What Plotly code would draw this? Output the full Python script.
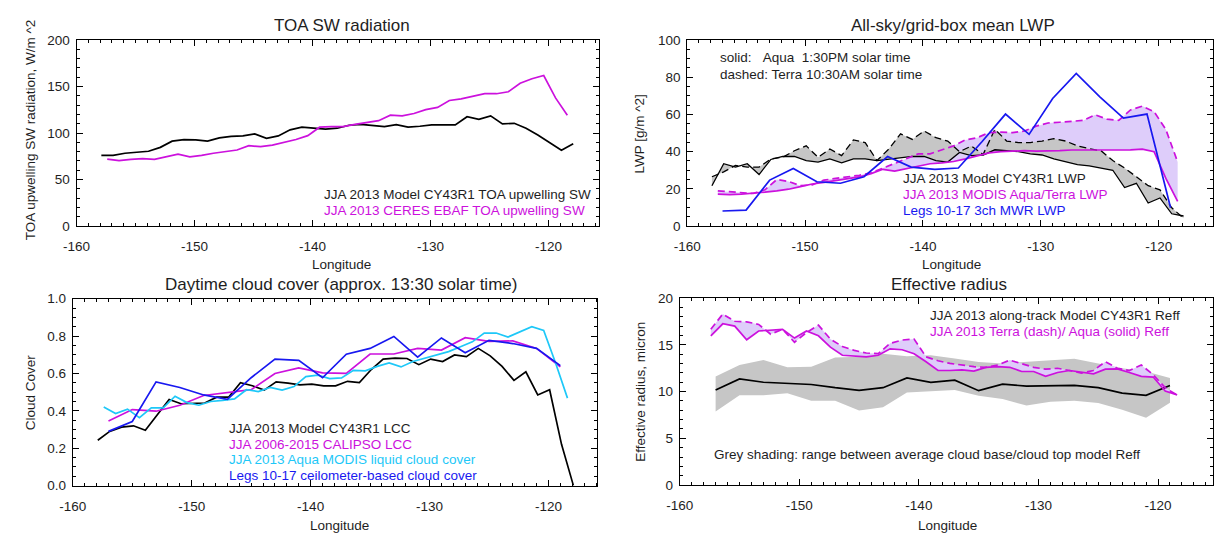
import plotly.graph_objects as go

W, H = 1215, 540

# ---------------- longitude grids ----------------
lon_model = [-157.9, -156.9, -155.9, -154.9, -153.9, -152.9, -151.9, -150.9, -149.9, -148.9,
             -147.9, -146.9, -145.9, -144.9, -143.9, -142.9, -141.9, -140.9, -139.9, -138.9,
             -137.9, -136.9, -135.9, -134.9, -133.9, -132.9, -131.9, -130.9, -129.9, -128.9,
             -127.9, -126.9, -125.9, -124.9, -123.9, -122.9, -121.9, -120.9, -119.9, -118.9,
             -117.9]
lon_obs = [-157.4, -156.4, -155.4, -154.4, -153.4, -152.4, -151.4, -150.4, -149.4, -148.4,
           -147.4, -146.4, -145.4, -144.4, -143.4, -142.4, -141.4, -140.4, -139.4, -138.4,
           -137.4, -136.4, -135.4, -134.4, -133.4, -132.4, -131.4, -130.4, -129.4, -128.4,
           -127.4, -126.4, -125.4, -124.4, -123.4, -122.4, -121.4, -120.4, -119.4, -118.4]
lon_2deg = [-157, -155, -153, -151, -149, -147, -145, -143, -141, -139,
            -137, -135, -133, -131, -129, -127, -125, -123, -121, -119]

# ---------------- TOA SW radiation (W/m^2) ----------------
toa_model = [75.9, 75.9, 78.3, 79.7, 80.4, 84.6, 91.3, 93.0, 92.7, 91.3,
             94.8, 96.5, 96.9, 99.0, 94.4, 96.9, 103.5, 106.3, 104.9, 104.2,
             105.2, 108.4, 109.4, 108.0, 107.0, 109.1, 106.3, 107.3, 108.7, 108.7,
             108.7, 117.5, 114.7, 118.5, 109.8, 110.5, 105.2, 97.9, 89.5, 81.5,
             88.5]
toa_ceres = [72.0, 70.3, 71.7, 72.4, 71.7, 74.1, 77.3, 74.5, 75.9, 78.3,
             80.4, 81.8, 86.4, 85.3, 87.1, 89.9, 93.0, 97.2, 106.3, 107.0,
             107.0, 109.4, 111.5, 113.3, 119.2, 118.5, 121.0, 125.2, 127.6, 135.0,
             136.7, 139.9, 142.3, 142.3, 144.4, 153.5, 158.4, 161.9, 137.8, 119.2]

# ---------------- LWP (g/m^2) ----------------
lwp_model_aqua = [21.7, 33.5, 31.7, 33.5, 27.7, 35.8, 37.4, 37.4, 35.2, 34.4,
                  36.1, 34.0, 36.1, 36.1, 35.2, 36.1, 37.0, 37.5, 37.4, 35.2,
                  34.4, 39.6, 37.9, 38.2, 41.0, 40.5, 40.0, 38.8, 38.2, 36.1,
                  34.4, 33.0, 32.3, 31.2, 30.0, 20.7, 23.0, 12.4, 15.1, 6.6,
                  5.4]
lwp_model_terra = [26.5, 29.1, 32.6, 31.7, 31.7, 36.1, 37.0, 40.5, 43.1, 37.0,
                   41.4, 37.9, 46.3, 44.9, 35.2, 41.4, 49.6, 46.6, 51.1, 47.5,
                   45.7, 40.0, 43.0, 38.5, 52.0, 45.7, 44.9, 44.9, 45.7, 47.0,
                   45.7, 43.1, 41.6, 40.5, 35.2, 31.2, 26.5, 21.7, 19.5, 9.8,
                   4.2]
lwp_modis_aqua = [17.2, 16.9, 17.2, 17.5, 18.2, 18.9, 19.8, 21.2, 22.6, 23.5,
                  24.5, 25.6, 26.4, 28.2, 30.5, 29.5, 30.9, 32.3, 33.5, 34.0,
                  34.7, 36.1, 37.9, 39.3, 40.0, 40.3, 40.5, 40.3, 40.3, 40.5,
                  40.9, 40.9, 40.5, 40.5, 40.9, 41.0, 41.4, 40.0, 25.6, 13.3]
lwp_modis_terra = [18.9, 18.5, 18.0, 17.5, 19.5, 25.0, 24.0, 21.7, 22.1, 24.7,
                   25.6, 26.3, 27.3, 28.6, 31.2, 33.5, 36.1, 38.8, 38.8, 41.0,
                   43.1, 46.3, 47.5, 50.2, 50.5, 50.2, 51.1, 53.7, 55.4, 55.8,
                   56.3, 56.8, 59.8, 57.5, 56.8, 62.4, 64.5, 61.5, 51.9, 34.4]
lwp_mwr = [8.1, 8.6, 24.7, 30.9, 23.8, 23.0, 26.5, 37.4, 31.7, 30.5,
           31.2, 45.3, 60.2, 49.3, 68.6, 82.1, 69.5, 58.0, 60.2, 9.8]

# ---------------- Cloud cover (fraction) ----------------
cc_model = [0.243, 0.290, 0.313, 0.320, 0.296, 0.377, 0.461, 0.438, 0.438, 0.442,
            0.473, 0.473, 0.551, 0.534, 0.511, 0.555, 0.548, 0.539, 0.543, 0.534,
            0.534, 0.558, 0.551, 0.621, 0.677, 0.682, 0.680, 0.647, 0.677, 0.664,
            0.699, 0.690, 0.734, 0.694, 0.638, 0.563, 0.609, 0.485, 0.513, 0.221,
            0.0]
cc_calipso = [0.346, 0.407, 0.398, 0.430, 0.482, 0.499, 0.513, 0.600, 0.630, 0.603,
              0.600, 0.704, 0.704, 0.734, 0.725, 0.791, 0.772, 0.774, 0.734, 0.635]
cc_modis = [0.421, 0.386, 0.409, 0.364, 0.416, 0.416, 0.478, 0.444, 0.430, 0.450,
            0.456, 0.464, 0.513, 0.503, 0.525, 0.511, 0.530, 0.583, 0.591, 0.572,
            0.576, 0.617, 0.614, 0.638, 0.656, 0.635, 0.664, 0.682, 0.699, 0.717,
            0.743, 0.769, 0.816, 0.816, 0.795, 0.824, 0.850, 0.830, 0.656, 0.468]
cc_ceil = [0.290, 0.343, 0.555, 0.525, 0.485, 0.461, 0.577, 0.677, 0.670, 0.577,
           0.703, 0.734, 0.798, 0.687, 0.790, 0.711, 0.777, 0.760, 0.734, 0.642]

# ---------------- Effective radius (micron) ----------------
reff_model = [10.17, 11.35, 11.0, 10.87, 10.76, 10.42, 10.14, 10.42, 11.46, 11.0,
              11.22, 10.1, 10.8, 10.59, 10.59, 10.66, 10.42, 9.83, 9.6, 10.66]
reff_model_top = [11.63, 12.85, 13.37, 12.6, 12.67, 13.65, 13.72, 14.06, 13.78, 13.89,
                  13.54, 13.16, 13.02, 13.16, 13.37, 13.51, 13.02, 12.5, 12.15, 11.46]
reff_model_base = [7.88, 9.62, 9.62, 9.83, 9.03, 9.03, 7.99, 8.33, 9.9, 10.0,
                   10.17, 9.55, 9.2, 8.51, 8.92, 9.03, 8.78, 8.06, 7.19, 8.8]
reff_aqua = [15.97, 17.26, 17.01, 15.55, 16.49, 16.56, 16.67, 15.73, 16.49, 15.97,
             14.76, 13.89, 13.78, 13.72, 13.89, 14.58, 14.48, 14.06, 13.2, 12.26,
             12.26, 12.33, 12.19, 12.6, 12.67, 12.6, 12.15, 12.15, 11.63, 12.05,
             12.26, 12.05, 11.91, 12.4, 12.43, 12.05, 11.63, 11.56, 10.07, 9.65]
reff_terra = [16.67, 18.3, 17.53, 17.47, 17.19, 16.15, 16.67, 15.28, 16.32, 17.12,
              15.62, 14.83, 14.41, 14.13, 14.06, 15.17, 15.52, 15.62, 13.72, 13.3,
              13.02, 12.85, 12.67, 12.6, 12.85, 13.37, 13.02, 12.6, 12.4, 12.5,
              12.26, 11.98, 12.26, 13.2, 12.5, 12.26, 12.85, 11.8, 10.42, 9.62]

# ---------------- tick labels ----------------
lon_ticks = [-160, -150, -140, -130, -120]
lon_tick_text = ["-160", "-150", "-140", "-130", "-120"]
toa_ticks = [0, 50, 100, 150, 200]
lwp_ticks = [0, 20, 40, 60, 80, 100]
cc_ticks = [0.0, 0.2, 0.4, 0.6, 0.8, 1.0]
cc_tick_text = ["0.0", "0.2", "0.4", "0.6", "0.8", "1.0"]
reff_ticks = [0, 5, 10, 15, 20]

# ---------------- styling ----------------
FONT = "Liberation Sans, Arial, Helvetica, sans-serif"
TXT = "#1e1e1e"
BLACK = "#000000"
MAGENTA = "#CC11DD"
BLUE = "#1818F0"
CYAN = "#1EC8F8"
LAVENDER = "#DECDFA"
GREY = "#C6C6C6"
LW = 1.7
DASH = "7px,4px"
NB = "\u00a0"


def px(x):
    return x / W


def py(y):
    return 1 - y / H


def xaxis(x0, x1, anchor, right):
    return dict(domain=[px(x0), px(x1)], anchor=anchor, range=[-160, right],
                showline=True, linecolor="black", linewidth=1, mirror="allticks",
                ticks="inside", ticklen=6, tickwidth=1, tickcolor="black",
                tickmode="array", tickvals=lon_ticks, ticktext=lon_tick_text,
                minor=dict(ticks="inside", ticklen=3, tickwidth=1, tickcolor="black",
                           tickmode="linear", tick0=-160, dtick=1, showgrid=False),
                showgrid=False, zeroline=False, ticklabelstandoff=8,
                tickfont=dict(family=FONT, size=13.5, color=TXT))


def yaxis(y_top, y_bot, anchor, rng, vals, dminor, text=None):
    d = dict(domain=[py(y_bot), py(y_top)], anchor=anchor, range=rng,
             showline=True, linecolor="black", linewidth=1, mirror="allticks",
             ticks="inside", ticklen=6, tickwidth=1, tickcolor="black",
             tickmode="array", tickvals=vals,
             minor=dict(ticks="inside", ticklen=3, tickwidth=1, tickcolor="black",
                        tickmode="linear", tick0=0, dtick=dminor, showgrid=False),
             showgrid=False, zeroline=False, ticklabelstandoff=3,
             tickfont=dict(family=FONT, size=13.5, color=TXT))
    if text is not None:
        d["ticktext"] = text
    return d


fig = go.Figure()


def line(x, y, color, xa, ya, dash=None, width=LW):
    fig.add_trace(go.Scatter(x=x, y=y, mode="lines", xaxis=xa, yaxis=ya,
                             line=dict(color=color, width=width, dash=dash),
                             showlegend=False, hoverinfo="skip"))


def band(x, y_a, y_b, color, xa, ya):
    fig.add_trace(go.Scatter(x=x, y=y_a, mode="lines", xaxis=xa, yaxis=ya,
                             line=dict(width=0), showlegend=False, hoverinfo="skip"))
    fig.add_trace(go.Scatter(x=x, y=y_b, mode="lines", xaxis=xa, yaxis=ya,
                             line=dict(width=0), fill="tonexty", fillcolor=color,
                             showlegend=False, hoverinfo="skip"))


# Panel 1: TOA SW
line(lon_model, toa_model, BLACK, "x", "y")
line(lon_obs, toa_ceres, MAGENTA, "x", "y")

# Panel 2: LWP
band(lon_obs, lwp_modis_aqua, lwp_modis_terra, LAVENDER, "x2", "y2")
band(lon_model, lwp_model_aqua, lwp_model_terra, GREY, "x2", "y2")
line(lon_model, lwp_model_aqua, BLACK, "x2", "y2", width=1.3)
line(lon_model, lwp_model_terra, BLACK, "x2", "y2", dash=DASH, width=1.3)
line(lon_obs, lwp_modis_aqua, MAGENTA, "x2", "y2")
line(lon_obs, lwp_modis_terra, MAGENTA, "x2", "y2", dash=DASH)
line(lon_2deg, lwp_mwr, BLUE, "x2", "y2")

# Panel 3: cloud cover
line(lon_model, cc_model, BLACK, "x3", "y3")
line(lon_2deg, cc_calipso, MAGENTA, "x3", "y3")
line(lon_obs, cc_modis, CYAN, "x3", "y3")
line(lon_2deg, cc_ceil, BLUE, "x3", "y3")

# Panel 4: effective radius
band(lon_2deg, reff_model_base, reff_model_top, GREY, "x4", "y4")
band(lon_obs, reff_aqua, reff_terra, LAVENDER, "x4", "y4")
line(lon_2deg, reff_model, BLACK, "x4", "y4")
line(lon_obs, reff_aqua, MAGENTA, "x4", "y4")
line(lon_obs, reff_terra, MAGENTA, "x4", "y4", dash=DASH)

annotations = []


def text(s, x, y, size=13.5, color=TXT, xanchor="left", angle=0):
    annotations.append(dict(text=s, x=px(x), y=py(y), xref="paper", yref="paper",
                            xanchor=xanchor, yanchor="middle", showarrow=False,
                            textangle=angle, borderpad=0,
                            font=dict(family=FONT, size=size, color=color)))


# titles
text("TOA SW radiation", 332, 19.5, size=17, xanchor="center")
text("All-sky/grid-box mean LWP", 949.5, 19.5, size=17, xanchor="center")
text("Daytime cloud cover (approx. 13:30 solar time)", 330.5, 285, size=17, xanchor="center")
text("Effective radius", 946, 285, size=17, xanchor="center")

# axis titles
for cx, cy in [(331, 265), (948.5, 265), (329, 533), (944.5, 533)]:
    text("Longitude", cx, cy, xanchor="center")
text("TOA upwelling SW radiation, W/m ^2", 17, 126, xanchor="center", angle=-90)
text("LWP [g/m ^2]", 633, 130.5, xanchor="center", angle=-90)
text("Cloud Cover", 17, 396.5, xanchor="center", angle=-90)
text("Effective radius, micron", 633, 396, xanchor="center", angle=-90)

# panel 1 key
text("JJA 2013 Model CY43R1 TOA upwelling SW", 312.7, 192.7)
text("JJA 2013 CERES EBAF TOA upwelling SW", 312.7, 209.3, color=MAGENTA)

# panel 2 notes and key
text("solid:" + NB * 3 + "Aqua" + NB * 2 + "1:30PM solar time", 713.3, 52.3)
text("dashed: Terra 10:30AM solar time", 713.3, 69.3)
text("JJA 2013 Model CY43R1 LWP", 898, 176.7)
text("JJA 2013 MODIS Aqua/Terra LWP", 898, 192.7, color=MAGENTA)
text("Legs 10-17 3ch MWR LWP", 898, 209.3, color=BLUE)

# panel 3 key
text("JJA 2013 Model CY43R1 LCC", 216.7, 433.3)
text("JJA 2006-2015 CALIPSO LCC", 216.7, 449.5, color=MAGENTA)
text("JJA 2013 Aqua MODIS liquid cloud cover", 216.7, 465.7, color=CYAN)
text("Legs 10-17 ceilometer-based cloud cover", 216.7, 481.7, color=BLUE)

# panel 4 key
text("JJA 2013 along-track Model CY43R1 Reff", 926, 317.7)
text("JJA 2013 Terra (dash)/ Aqua (solid) Reff", 926, 333.3, color=MAGENTA)
text("Grey shading: range between average cloud base/cloud top model Reff", 706.7, 460)

fig.update_layout(
    width=W, height=H, autosize=False,
    margin=dict(l=0, r=0, t=0, b=0),
    paper_bgcolor="white", plot_bgcolor="white",
    showlegend=False,
    font=dict(family=FONT, color=TXT),
    xaxis=xaxis(63.3, 592, "y", -115.7),
    yaxis=yaxis(34, 225.3, "x", [0, 200], toa_ticks, 10),
    xaxis2=xaxis(681, 1213, "y2", -115.4),
    yaxis2=yaxis(34, 225.3, "x2", [0, 100], lwp_ticks, 5),
    xaxis3=xaxis(59.5, 590, "y3", -115.9),
    yaxis3=yaxis(300, 492.3, "x3", [0, 1], cc_ticks, 0.05, cc_tick_text),
    xaxis4=xaxis(673.5, 1213, "y4", -115.4),
    yaxis4=yaxis(299.5, 491.7, "x4", [0, 20], reff_ticks, 1),
    annotations=annotations,
)

fig.write_html("out.html")
